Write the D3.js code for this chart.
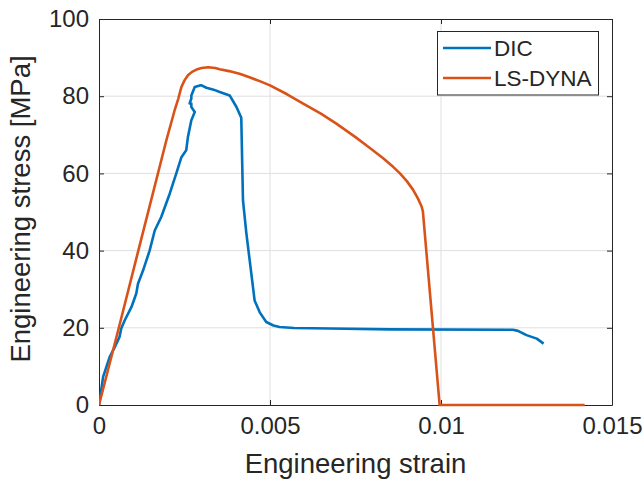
<!DOCTYPE html>
<html><head><meta charset="utf-8">
<script src="https://cdn.jsdelivr.net/npm/d3@7"></script>
<style>body{margin:0;background:#fff}svg{display:block}text{font-family:Arial,"Liberation Sans",sans-serif;fill:#262626}</style>
</head><body>
<svg id="c" width="643" height="481"></svg>
<script>
const dicStrain = [0,0.00003,0.00012,0.00031,0.00046,0.0006,0.00065,0.00075,0.00095,0.00109,0.00114,0.00129,0.00148,0.00163,0.00182,0.00207,0.00226,0.00241,0.00255,0.0026,0.0027,0.0028,0.0027,0.0027,0.00265,0.0027,0.0027,0.0028,0.00295,0.003,0.00314,0.00335,0.00353,0.00382,0.00402,0.00416,0.00421,0.00431,0.00455,0.0047,0.00489,0.0051,0.00528,0.0057,0.00675,0.0085,0.0121,0.01225,0.0125,0.0128,0.013];
const dicStress = [0,1.7,7.3,12.4,15,17.6,19.8,21.9,25.4,28.9,31.4,34.9,40,45.2,48.7,54.8,60,64.2,66,69.4,73.8,75.9,77.2,78.1,78.1,79.4,80.2,82.4,82.8,82.8,82.2,81.7,81.1,80.2,77.2,74.4,53,44.4,27.1,24,21.5,20.6,20.2,19.95,19.8,19.6,19.5,19.2,18.1,17.2,15.9];
const lsStrain = [0,0.00058,0.00115,0.00197,0.00221,0.00232,0.00241,0.0025,0.0026,0.00272,0.00285,0.003,0.00319,0.0034,0.00353,0.0038,0.00411,0.0044,0.0047,0.005,0.0055,0.00597,0.0065,0.00694,0.0075,0.00792,0.0083,0.0086,0.0088,0.009,0.00918,0.00932,0.00943,0.00947,0.00996,0.0142];
const lsStress = [0,20,40,68.6,76.3,79.4,82.4,84.1,85.4,86.3,86.9,87.3,87.5,87.3,87,86.5,85.8,84.9,83.9,82.8,80.5,78.1,75.4,72.9,69.4,66.6,64.0,61.7,60.0,58.0,55.8,53.6,51.5,50.2,0,0];
const xTicks = [0,0.005,0.01,0.015];
const xTickLabels = ["0","0.005","0.01","0.015"];
const yTicks = [0,20,40,60,80,100];
const seriesNames = ["DIC","LS-DYNA"];
const seriesColors = ["#0072BD","#D95319"];

const svg = d3.select("#c");
const L=99,R=612,T=19,B=405;
const x = d3.scaleLinear().domain([0,0.015]).range([L,R]);
const y = d3.scaleLinear().domain([0,100]).range([B,T]);
const axc="#262626";

// grid
const g = svg.append("g");
g.selectAll(".gx").data(xTicks.slice(1,-1)).join("line")
  .attr("x1",d=>x(d)).attr("x2",d=>x(d)).attr("y1",T).attr("y2",B)
  .attr("stroke","#dfdfdf").attr("stroke-width",1);
g.selectAll(".gy").data(yTicks.slice(1,-1)).join("line")
  .attr("x1",L).attr("x2",R).attr("y1",d=>y(d)).attr("y2",d=>y(d))
  .attr("stroke","#dfdfdf").attr("stroke-width",1);

// axes
const fmt = d => xTickLabels[xTicks.indexOf(d)];
const ax = svg.append("g").attr("transform",`translate(0,${B})`)
  .call(d3.axisBottom(x).tickValues(xTicks).tickFormat(fmt).tickSizeInner(-5).tickSizeOuter(0).tickPadding(12));
const ay = svg.append("g").attr("transform",`translate(${L},0)`)
  .call(d3.axisLeft(y).tickValues(yTicks).tickSizeInner(-5).tickSizeOuter(0).tickPadding(10));
const axT = svg.append("g").attr("transform",`translate(0,${T})`)
  .call(d3.axisTop(x).tickValues(xTicks).tickFormat("").tickSizeInner(-5).tickSizeOuter(0));
const ayR = svg.append("g").attr("transform",`translate(${R},0)`)
  .call(d3.axisRight(y).tickValues(yTicks).tickFormat("").tickSizeInner(-5).tickSizeOuter(0));
[ax,ay,axT,ayR].forEach(a=>{
  a.selectAll("path,line").attr("stroke",axc).attr("stroke-width",1);
  a.selectAll("text").attr("font-size",24).attr("fill",axc).style("font-family","Arial,'Liberation Sans',sans-serif");
});

// lines
svg.append("clipPath").attr("id","clp").append("rect").attr("x",L).attr("y",T-3).attr("width",R-L).attr("height",B-T+6);
const dicData = dicStrain.map((s,i)=>[s,dicStress[i]]);
const lsData = lsStrain.map((s,i)=>[s,lsStress[i]]);
const line = d3.line().x(d=>x(d[0])).y(d=>y(d[1]));
svg.append("path").datum(dicData).attr("d",line).attr("fill","none").attr("stroke",seriesColors[0]).attr("stroke-width",2.6).attr("stroke-linejoin","round").attr("clip-path","url(#clp)");
svg.append("path").datum(lsData).attr("d",line).attr("fill","none").attr("stroke",seriesColors[1]).attr("stroke-width",2.6).attr("stroke-linejoin","round").attr("clip-path","url(#clp)");

// labels
svg.append("text").attr("x",(L+R)/2).attr("y",473).attr("text-anchor","middle").attr("font-size",27.5).text("Engineering strain");
svg.append("text").attr("transform","translate(30,209) rotate(-90)").attr("text-anchor","middle").attr("font-size",27.5).text("Engineering stress [MPa]");

// legend
const lg = svg.append("g");
lg.append("rect").attr("x",437.5).attr("y",31.5).attr("width",161).attr("height",63.5).attr("fill","#fff").attr("stroke",axc).attr("stroke-width",1);
seriesNames.forEach((n,i)=>{
  const yy = 48 + i*30;
  lg.append("line").attr("x1",443).attr("x2",491).attr("y1",yy).attr("y2",yy).attr("stroke",seriesColors[i]).attr("stroke-width",2.6);
  lg.append("text").attr("x",494).attr("y",yy+8).attr("font-size",22.5).text(n);
});
</script>
</body></html>
